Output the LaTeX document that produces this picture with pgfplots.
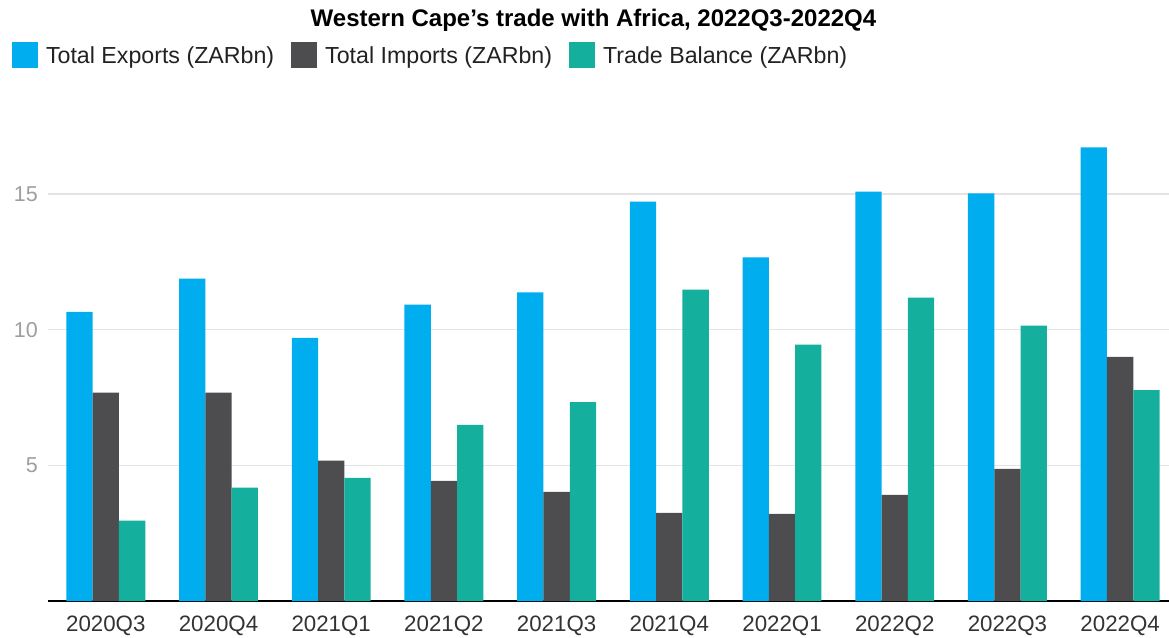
\documentclass[border=0pt]{standalone}
\usepackage{pgfplots}
\pgfplotsset{compat=1.18}
\usepackage{fontspec}
\setmainfont{Liberation Sans}
\definecolor{cExp}{HTML}{00AEEF}
\definecolor{cImp}{HTML}{4D4D4F}
\definecolor{cBal}{HTML}{15AF9E}
\definecolor{cGrid}{HTML}{E4E4E4}
\definecolor{cYtick}{HTML}{9E9E9E}
\definecolor{cXtick}{HTML}{333333}
\definecolor{cText}{HTML}{222222}
\begin{document}
\begin{tikzpicture}
\useasboundingbox (0,0) rectangle (1169pt,637pt);
\begin{axis}[
  at={(48pt,36pt)}, anchor=south west,
  scale only axis, width=1121pt, height=488.4pt,
  xmin=-0.513, xmax=9.434, ymin=0, ymax=18,
  ybar, bar width=0.2334,
  axis x line=bottom, axis y line=left,
  x axis line style={-, black, line width=1.5pt},
  y axis line style={draw=none},
  major tick length=0pt,
  xtick=data,
  xticklabels={2020Q3,2020Q4,2021Q1,2021Q2,2021Q3,2021Q4,2022Q1,2022Q2,2022Q3,2022Q4},
  ytick={5,10,15},
  ymajorgrids, grid style={cGrid, line width=1.2pt},
  /pgf/number format/assume math mode=true,
  xticklabel style={font=\fontsize{22.3}{26}\selectfont, text=cXtick, inner sep=0pt, anchor=north, yshift=-15pt},
  yticklabel style={font=\fontsize{21.5}{26}\selectfont, text=cYtick, inner sep=0pt, anchor=east, xshift=-10pt},
  legend columns=3,
  legend style={at={(-0.03211,1.14455)}, anchor=north west, draw=none, fill=none,
    inner sep=0pt, outer sep=0pt,
    nodes={inner sep=0pt, text depth=0pt, font=\fontsize{23.2}{27}\selectfont, text=cText},
    /tikz/every odd column/.append style={column sep=8pt},
    /tikz/every even column/.append style={column sep=17pt}},
  legend cell align=left,
]
\addplot[fill=cExp, draw=none, bar shift=-0.2334,
  legend image code/.code={\fill[cExp] (0pt,-13pt) rectangle (26pt,13pt);}]
  coordinates {(0,10.66) (1,11.88) (2,9.70) (3,10.92) (4,11.37) (5,14.72) (6,12.66) (7,15.09) (8,15.02) (9,16.72)};
\addlegendentry{Total Exports (ZARbn)}
\addplot[fill=cImp, draw=none, bar shift=0,
  legend image code/.code={\fill[cImp] (0pt,-13pt) rectangle (26pt,13pt);}]
  coordinates {(0,7.68) (1,7.68) (2,5.17) (3,4.43) (4,4.02) (5,3.25) (6,3.21) (7,3.91) (8,4.87) (9,9.00)};
\addlegendentry{Total Imports (ZARbn)}
\addplot[fill=cBal, draw=none, bar shift=0.2334,
  legend image code/.code={\fill[cBal] (0pt,-13pt) rectangle (26pt,13pt);}]
  coordinates {(0,2.96) (1,4.18) (2,4.54) (3,6.49) (4,7.33) (5,11.48) (6,9.45) (7,11.18) (8,10.15) (9,7.77)};
\addlegendentry{Trade Balance (ZARbn)}
\end{axis}
\node[anchor=base, inner sep=0pt] at (593.5pt,610.5pt) {\fontsize{24}{28}\selectfont\bfseries Western Cape’s trade with Africa, 2022Q3-2022Q4};
\end{tikzpicture}
\end{document}
